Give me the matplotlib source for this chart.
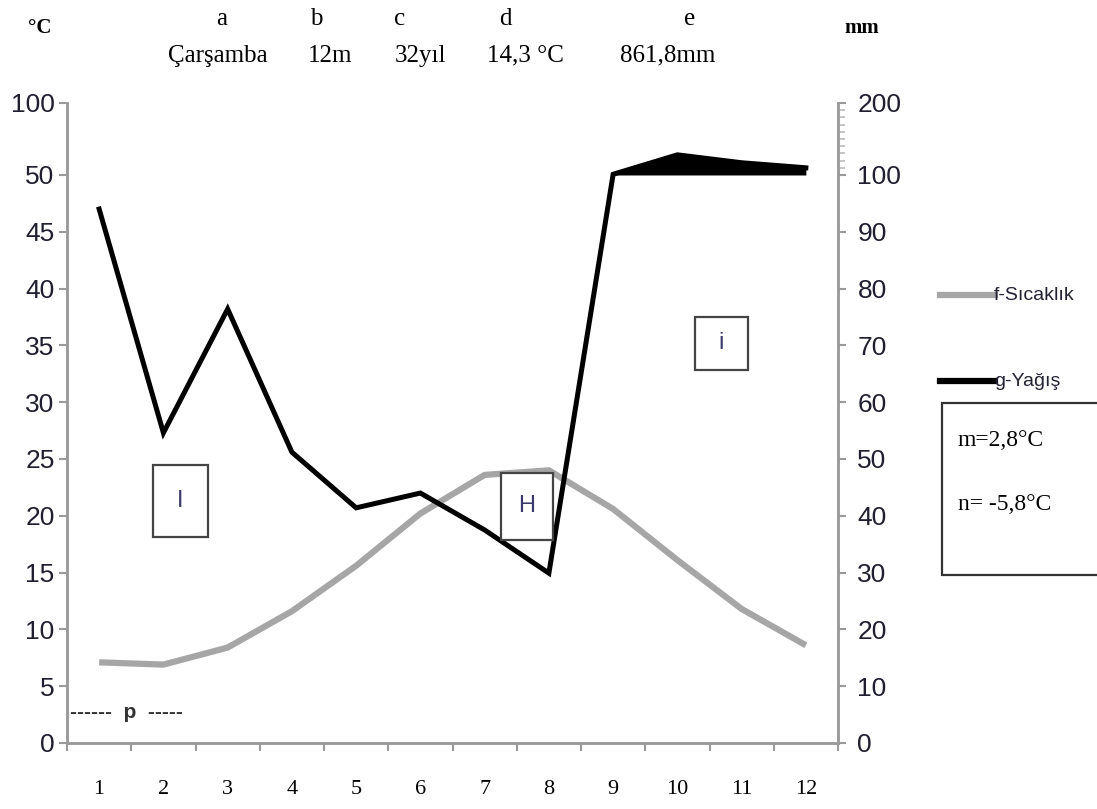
import numpy as np
import matplotlib
matplotlib.use("Agg")
import matplotlib.pyplot as plt
from matplotlib.lines import Line2D
from matplotlib.patches import Rectangle

# climate data (Çarşamba)
months = [1, 2, 3, 4, 5, 6, 7, 8, 9, 10, 11, 12]
temperature = [7.1, 6.9, 8.4, 11.6, 15.6, 20.2, 23.6, 24.0, 20.6, 16.1, 11.8, 8.6]
precipitation = [94.0, 54.6, 76.4, 51.2, 41.4, 44.0, 37.5, 29.9, 101.0, 128.0, 117.0, 110.0]

temp_ticks = [0, 5, 10, 15, 20, 25, 30, 35, 40, 45, 50, 100]
prec_ticks = [0, 10, 20, 30, 40, 50, 60, 70, 80, 90, 100, 200]
prec_minor = [110, 120, 130, 140, 150, 160, 170, 180, 190]

header_keys = ["a", "b", "c", "d", "e"]
header_vals = ["Çarşamba", "12m", "32yıl", "14,3 °C", "861,8mm"]

# compressed scale above the break (50 °C / 100 mm)
K = 72 / 568


def fwd_c(v):
    v = np.asarray(v, float)
    return np.where(v <= 50, v, 50 + (v - 50) * K)


def inv_c(u):
    u = np.asarray(u, float)
    return np.where(u <= 50, u, 50 + (u - 50) / K)


def fwd_mm(v):
    v = np.asarray(v, float)
    return np.where(v <= 100, v, 100 + (v - 100) * K)


def inv_mm(u):
    u = np.asarray(u, float)
    return np.where(u <= 100, u, 100 + (u - 100) / K)


sans = ["Liberation Sans Narrow", "Liberation Sans", "DejaVu Sans"]
serif = ["Liberation Serif", "DejaVu Serif"]
gray = "#a6a6a6"
axis_gray = "#9a9a9a"

fig = plt.figure(figsize=(10.97, 8.09), dpi=100)
ax = fig.add_axes([0.0611, 0.0816, 0.7028, 0.7911])
ax2 = ax.twinx()

ax.plot(months, temperature, color=gray, lw=4.5, solid_capstyle="butt", zorder=2)
ax2.plot(months, precipitation, color="black", lw=3.6, solid_joinstyle="miter", zorder=3)
prec = np.array(precipitation)
ax2.fill_between(months, 100, prec, where=prec >= 100, interpolate=True, color="black", lw=0)

ax.set_yscale("function", functions=(fwd_c, inv_c))
ax2.set_yscale("function", functions=(fwd_mm, inv_mm))
ax.set_ylim(0, 100)
ax2.set_ylim(0, 200)
ax.set_xlim(0.5, 12.5)

ax.set_yticks(temp_ticks)
ax.set_yticklabels([str(t) for t in temp_ticks])
ax2.set_yticks(prec_ticks)
ax2.set_yticklabels([str(t) for t in prec_ticks])
ax.minorticks_off()
ax2.yaxis.set_minor_locator(matplotlib.ticker.FixedLocator(prec_minor))

ax.set_xticks(np.arange(0.5, 13, 1))
ax.set_xticklabels([])
ax.set_xticks(months, minor=True)
ax.set_xticklabels([str(m) for m in months], minor=True, fontfamily=serif, fontsize=16)
ax.tick_params(axis="x", which="major", length=6, width=1.5, color=axis_gray)
ax.tick_params(axis="x", which="minor", length=0, pad=27)
ax.tick_params(axis="y", length=6, width=1.5, color=axis_gray, pad=3, labelsize=19)
ax2.tick_params(axis="y", which="major", length=6, width=1.5, color=axis_gray, pad=8, labelsize=19)
ax2.tick_params(axis="y", which="minor", length=5, width=1.2, color="#bbbbbb")
for lab in ax.get_yticklabels() + ax2.get_yticklabels():
    lab.set_fontfamily(sans)
    lab.set_color("#1f1f2f")

for a in (ax, ax2):
    a.spines["top"].set_visible(False)
    for s in ("left", "right", "bottom"):
        a.spines[s].set_color(axis_gray)
        a.spines[s].set_linewidth(1.8)
ax2.set_zorder(ax.get_zorder() + 1)
ax2.patch.set_visible(False)

# header text
fig.text(0.0365, 0.965, "°C", family=serif, fontsize=15, weight="bold", ha="center", va="center")
fig.text(0.786, 0.965, "mm", family=serif, fontsize=15, weight="bold", ha="center", va="center")
key_x = [222, 316, 400, 505, 690]
val_x = [218, 330, 420, 525, 668]
for k, v, kx, vx in zip(header_keys, header_vals, key_x, val_x):
    fig.text(kx / 1097, 0.976, k, family=serif, fontsize=18, ha="center", va="center")
    fig.text(vx / 1097, 0.931, v, family=serif, fontsize=18, ha="center", va="center")

# labelled boxes in the plot
for (x0, x1, y0, y1, s) in [(153, 208, 465, 537, "I"), (501, 553, 473, 540, "H"), (695, 748, 317, 370, "i")]:
    fig.add_artist(Rectangle((x0 / 1097, 1 - y1 / 809), (x1 - x0) / 1097, (y1 - y0) / 809,
                             transform=fig.transFigure, facecolor="white", edgecolor="#444444",
                             lw=1.6, zorder=5))
    fig.text((x0 + x1) / 2 / 1097, 1 - (y0 + y1) / 2 / 809, s, family=["Liberation Sans", "DejaVu Sans"],
             fontsize=17, color="#3a3a6a", ha="center", va="center", zorder=6)

# p marker line
fig.text(0.064, 1 - 712 / 809, "------  p  -----", family=sans, fontsize=15, weight="bold",
         color="#333333", ha="left", va="center")

# legend drawn by hand
fig.add_artist(Line2D([0.857, 0.907], [0.635, 0.635], color=gray, lw=4.5, transform=fig.transFigure))
fig.add_artist(Line2D([0.857, 0.907], [0.529, 0.529], color="black", lw=4.5, transform=fig.transFigure))
fig.text(0.906, 0.635, "f-Sıcaklık", family=sans, fontsize=14, ha="left", va="center", color="#222233")
fig.text(0.906, 0.529, "g-Yağış", family=sans, fontsize=14, ha="left", va="center", color="#222233")
fig.add_artist(Rectangle((0.859, 0.289), 0.16, 0.2126, transform=fig.transFigure,
                         facecolor="white", edgecolor="#333333", lw=1.6))
fig.text(0.873, 0.456, "m=2,8°C", family=serif, fontsize=17, ha="left", va="center")
fig.text(0.873, 0.376, "n= -5,8°C", family=serif, fontsize=17, ha="left", va="center")

fig.savefig("out.png", dpi=100)
